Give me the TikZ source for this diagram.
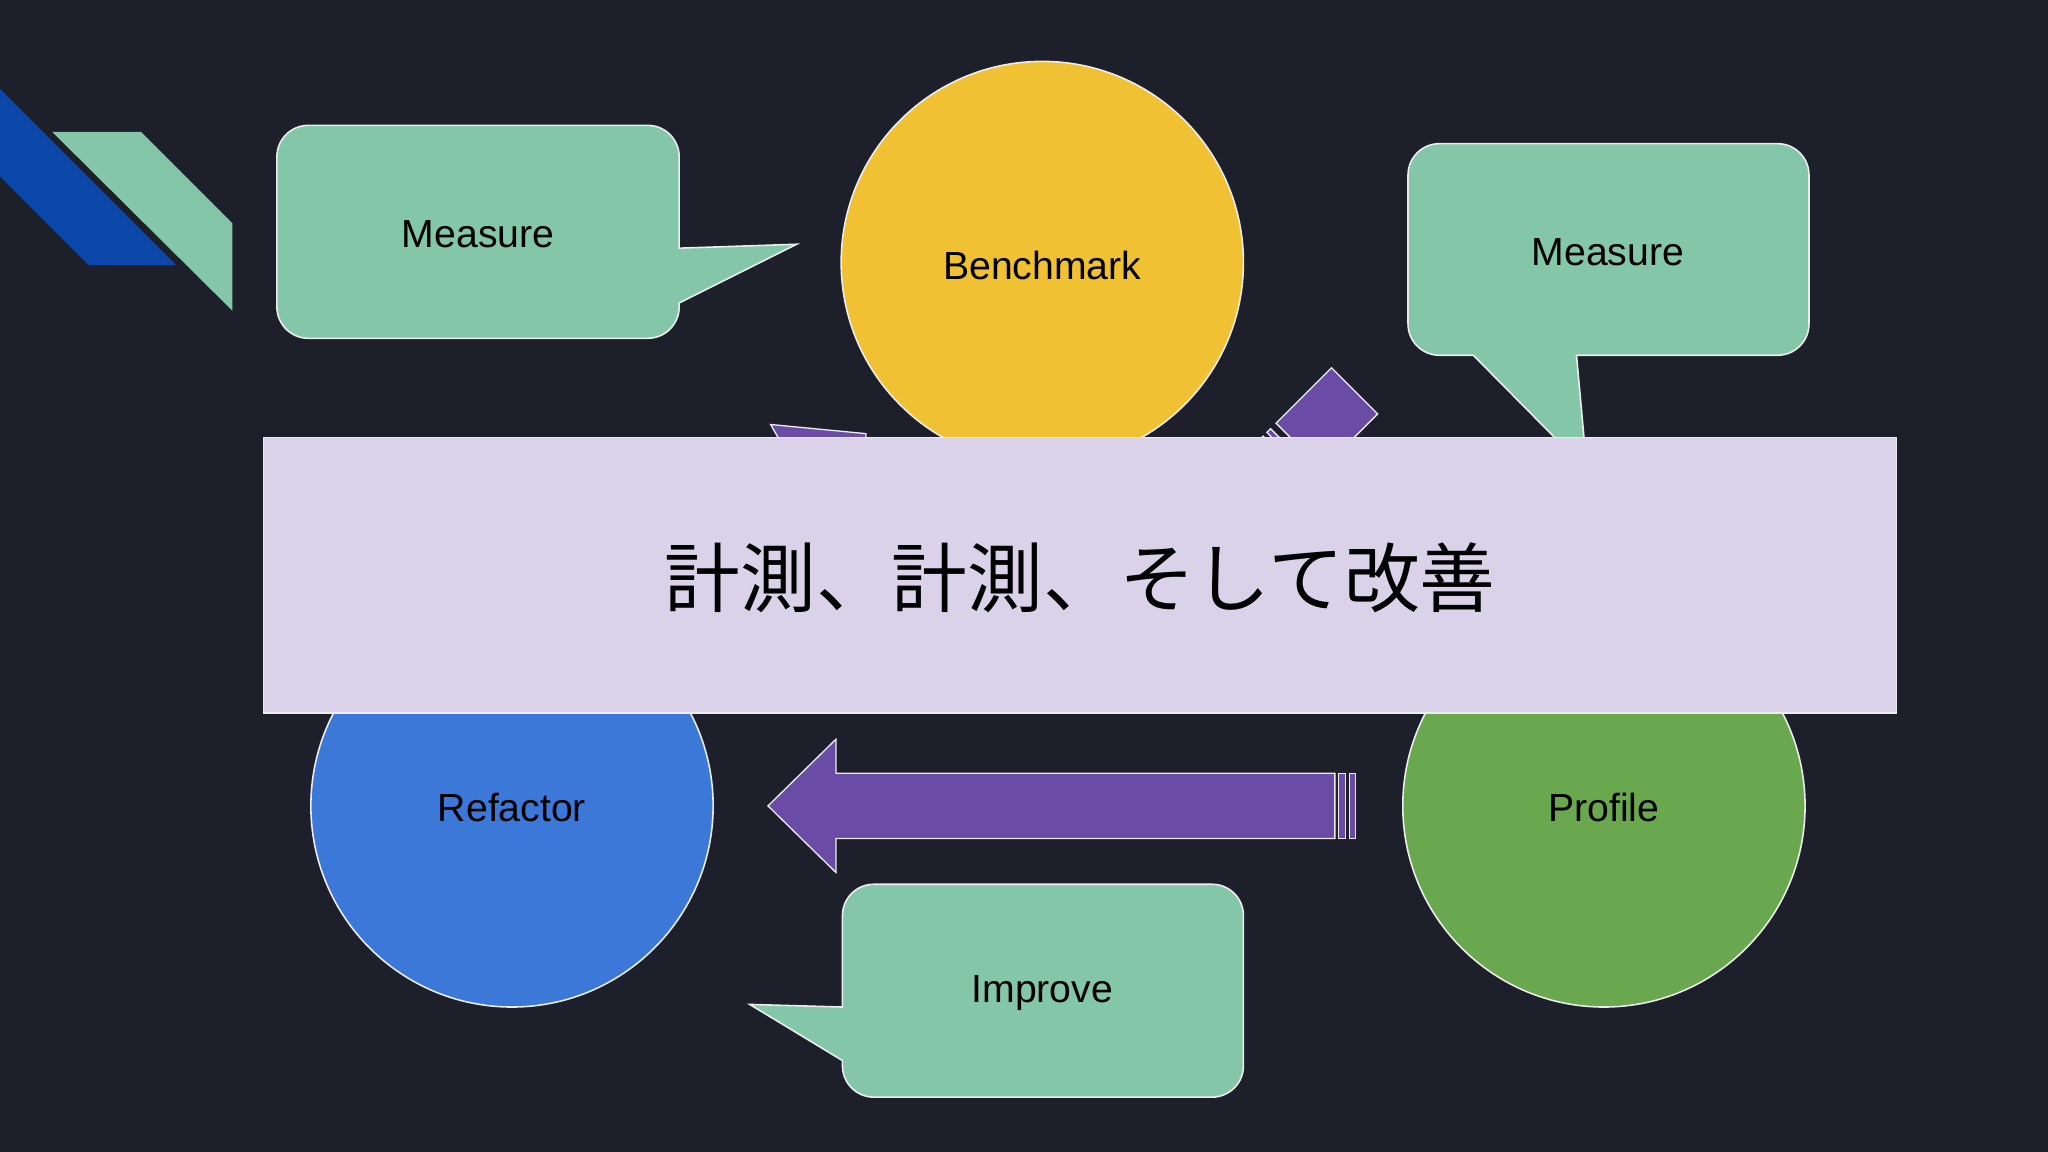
\documentclass[tikz,border=0pt]{standalone}
\usepackage{fontspec}
\setmainfont{Liberation Sans}
\newfontfamily\cjk{Noto Sans CJK JP}
\definecolor{bg}{HTML}{1D202B}
\definecolor{mint}{HTML}{84C7A8}
\definecolor{yel}{HTML}{F1C134}
\definecolor{blu}{HTML}{3C78D8}
\definecolor{grn}{HTML}{6AA84F}
\definecolor{pur}{HTML}{6A4CA6}
\definecolor{lav}{HTML}{DAD2E9}
\definecolor{dblue}{HTML}{0B47A8}
\tikzset{
 shp/.style={draw=white!85!gray, line width=0.6pt},
 callout/.style={shp, fill=mint},
 circ/.style={shp, circle, minimum size=154pt, inner sep=0pt},
 lbl/.style={font=\fontsize{15}{18}\selectfont, text=black},
 arr/.style={shp, fill=pur, line width=0.5pt},
}
\begin{document}
\begin{tikzpicture}[x=0.5pt,y=-0.5pt]
\fill[bg] (0,0) rectangle (1568,882);
\useasboundingbox (0,0) rectangle (1568,882);
% decorations
\fill[dblue] (0,68) -- (135,203) -- (68,203) -- (0,135) -- cycle;
\fill[mint] (40,101) -- (108,101) -- (178,171) -- (178,238) -- cycle;
% hidden arrows
\path[arr] (590,325) -- (663,332) -- (663,360) -- (610,360) -- cycle;
\begin{scope}[shift={(977,324)}, rotate=45]
 \path[arr] (0,0) -- (60,0) -- (60,50) -- (0,50) -- cycle;
 \path[arr] (-6,0) -- (-10,0) -- (-10,50) -- (-6,50) -- cycle;
 \path[arr] (-14,0) -- (-18,0) -- (-18,50) -- (-14,50) -- cycle;
\end{scope}
% main arrow
\path[arr] (1022,592) -- (640,592) -- (640,566) -- (588,617) -- (640,668) -- (640,642) -- (1022,642) -- cycle;
\path[arr] (1025,592) rectangle (1030,642);
\path[arr] (1033,592) rectangle (1038,642);
% circles
\node[circ, fill=yel] (bench) at (798,201) {};
\node[circ, fill=blu] (refac) at (392,617) {};
\node[circ, fill=grn] (prof) at (1228,617) {};
\node[lbl] (tbench) at (798,203) {Benchmark};
\node[lbl] (trefac) at (392,618) {Refactor};
\node[lbl] (tprof) at (1228,618) {Profile};
% callouts
\path[callout] (366,96) [rounded corners=12pt] -- (520,96) [sharp corners] -- (520,190) -- (610,187) -- (520,232) [rounded corners=12pt] -- (520,259) -- (212,259) -- (212,96) -- cycle;
\node[lbl] (m1) at (366,179) {Measure};
\path[callout] (1230,110) [rounded corners=12pt] -- (1385,110) -- (1385,272) [sharp corners] -- (1207,272) -- (1215,360) -- (1128,272) [rounded corners=12pt] -- (1078,272) -- (1078,110) -- cycle;
\node[lbl] (m2) at (1231,193) {Measure};
\path[callout] (800,677) [rounded corners=12pt] -- (952,677) -- (952,840) -- (645,840) [sharp corners] -- (645,812) -- (574,769) -- (645,771) [rounded corners=12pt] -- (645,677) -- cycle;
\node[lbl] (imp) at (798,760) {Improve};
% banner
\node[draw=white!85!gray, line width=0.5pt, fill=lav, minimum width=625pt, minimum height=105.5pt, inner sep=0pt] (banner) at (827,440.5) {};
\node[font=\cjk\fontsize{29}{34}\selectfont, text=black] (title) at (827,442) {計測、計測、そして改善};
\end{tikzpicture}
\end{document}
